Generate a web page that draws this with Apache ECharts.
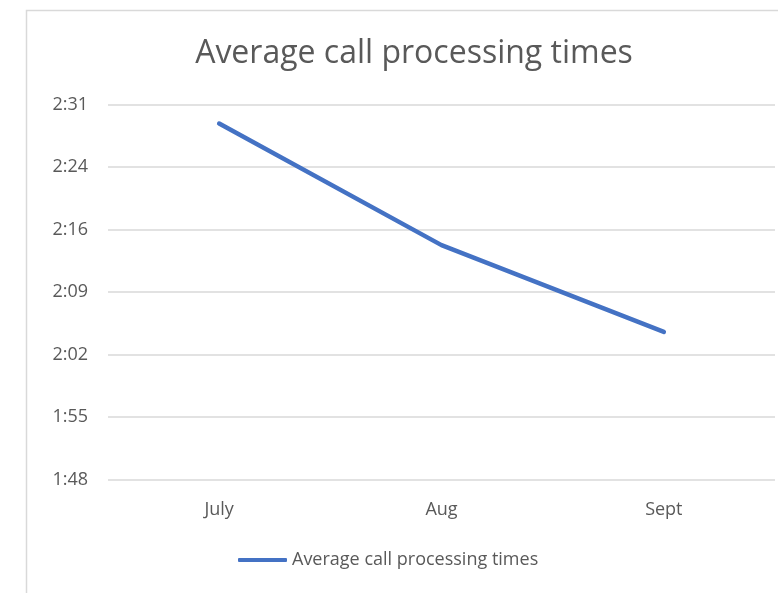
<!DOCTYPE html>
<html>
<head>
<meta charset="utf-8">
<title>Average call processing times</title>
<script src="https://cdn.jsdelivr.net/npm/echarts@6/dist/echarts.min.js"></script>
<style>
  html, body { margin: 0; padding: 0; background: #fff; }
  #chart { width: 778px; height: 593px; }
</style>
</head>
<body>
<div id="chart"></div>
<script>
// months on the x axis
const months = ['July', 'Aug', 'Sept']
// average call time in seconds (2:29, 2:15, 2:05)
const callSeconds = [149, 135, 125]
// y axis runs in seconds, Excel time ticks of 7.2 s
const yMin = 108
const yMax = 151.2
const yStep = 7.2
const yTickLabels = ['1:48', '1:55', '2:02', '2:09', '2:16', '2:24', '2:31']

const fontFamily = '"Open Sans", Lato, sans-serif'
const textColor = '#595959'

const chart = echarts.init(document.getElementById('chart'))

chart.setOption({
  animation: false,
  title: {
    text: 'Average call processing times',
    left: 414,
    top: 38,
    padding: 0,
    textAlign: 'center',
    textStyle: {
      fontFamily,
      fontSize: 32,
      fontWeight: 'normal',
      color: textColor
    }
  },
  graphic: [{
    // chart frame, cropped on the right like the screenshot
    type: 'rect',
    shape: { x: 26.5, y: 10.5, width: 800, height: 620 },
    style: { fill: 'none', stroke: '#d9d9d9', lineWidth: 1.5 },
    silent: true
  }],
  grid: {
    left: 108,
    right: 3,
    top: 104.5,
    bottom: 113.5
  },
  legend: {
    data: ['Average call processing times'],
    left: 238,
    top: 551,
    padding: 0,
    itemWidth: 49,
    itemHeight: 4,
    icon: 'roundRect',
    textStyle: {
      fontFamily,
      fontSize: 18,
      color: textColor
    }
  },
  xAxis: {
    type: 'category',
    data: months,
    boundaryGap: true,
    axisLine: { show: false },
    axisTick: { show: false },
    axisLabel: {
      margin: 21,
      fontFamily,
      fontSize: 18,
      color: textColor
    }
  },
  yAxis: {
    type: 'value',
    min: yMin,
    max: yMax,
    interval: yStep,
    axisLine: { show: false },
    axisTick: { show: false },
    splitLine: { lineStyle: { color: '#d9d9d9', width: 1.5 } },
    axisLabel: {
      margin: 20,
      fontFamily,
      fontSize: 18,
      color: textColor,
      formatter: function(v) {
        return yTickLabels[Math.round((v - yMin) / yStep)]
      }
    }
  },
  series: [{
    name: 'Average call processing times',
    type: 'line',
    data: callSeconds,
    symbol: 'none',
    itemStyle: { color: '#4472c4' },
    lineStyle: { color: '#4472c4', width: 4.5, cap: 'round', join: 'round' }
  }]
})
</script>
</body>
</html>
